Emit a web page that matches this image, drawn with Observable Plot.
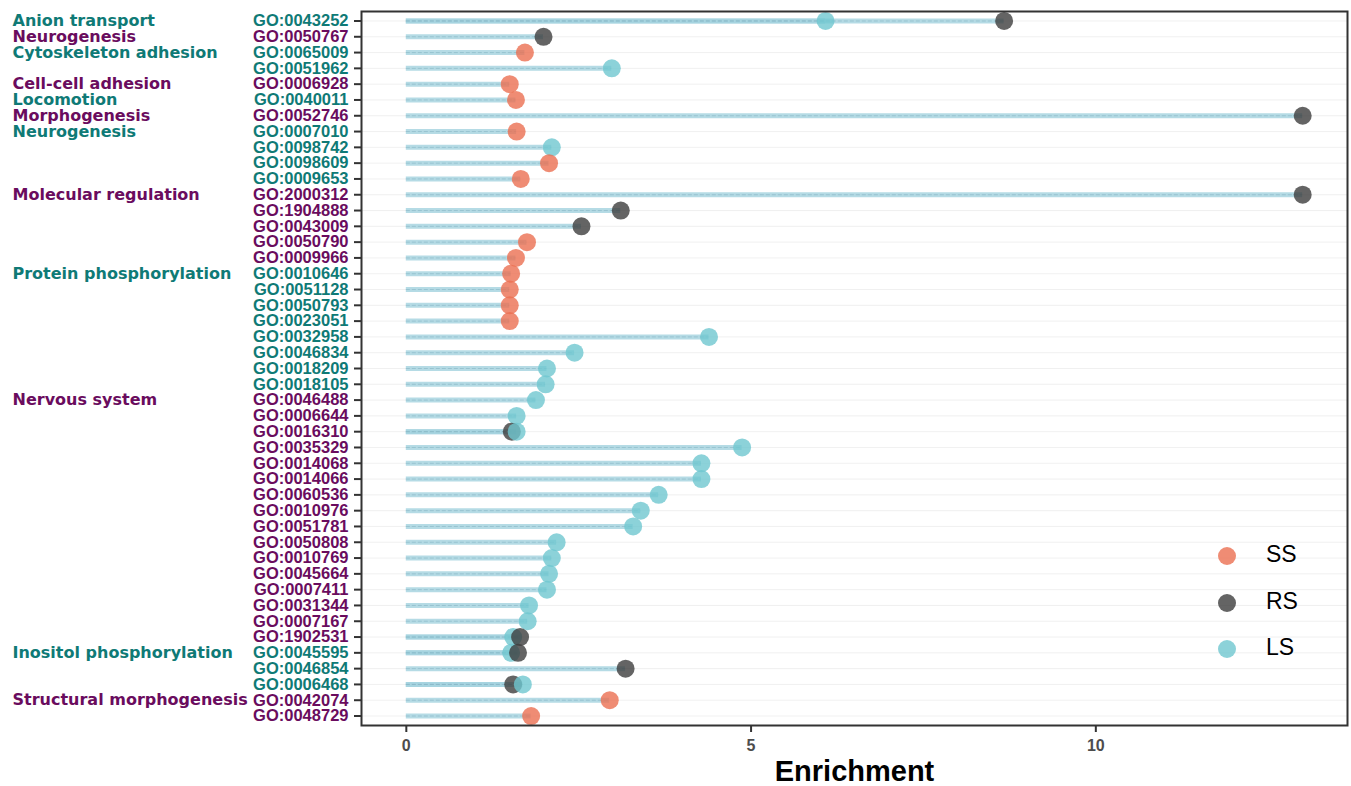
<!DOCTYPE html>
<html>
<head>
<meta charset="utf-8">
<script src="https://cdn.jsdelivr.net/npm/d3@7"></script>
<script src="https://cdn.jsdelivr.net/npm/@observablehq/plot@0.6"></script>
<style>
  html, body { margin: 0; padding: 0; background: #fff; }
  #wrap { position: relative; width: 1351px; height: 786px; }
  #legend { position: absolute; left: 1210px; top: 535px; font-family: "Liberation Sans", Arial, sans-serif; font-size: 23px; color: #000; }
  .li { position: relative; height: 46.5px; }
  .dot { position: absolute; left: 8px; top: 12px; width: 18px; height: 18px; border-radius: 50%; }
  .lab { position: absolute; left: 56px; top: 6px; line-height: 26px; }
</style>
</head>
<body>
<div id="wrap"><div id="chart"></div><div id="legend"></div></div>
<script>
// ---- data ----
const goIds = [
  "GO:0043252","GO:0050767","GO:0065009","GO:0051962","GO:0006928","GO:0040011","GO:0052746","GO:0007010",
  "GO:0098742","GO:0098609","GO:0009653","GO:2000312","GO:1904888","GO:0043009","GO:0050790","GO:0009966",
  "GO:0010646","GO:0051128","GO:0050793","GO:0023051","GO:0032958","GO:0046834","GO:0018209","GO:0018105",
  "GO:0046488","GO:0006644","GO:0016310","GO:0035329","GO:0014068","GO:0014066","GO:0060536","GO:0010976",
  "GO:0051781","GO:0050808","GO:0010769","GO:0045664","GO:0007411","GO:0031344","GO:0007167","GO:1902531",
  "GO:0045595","GO:0046854","GO:0006468","GO:0042074","GO:0048729"
];
// label group: t = teal, p = purple
const goGroup = [
  "t","p","t","t","p","t","p","t",
  "t","t","t","p","p","p","p","p",
  "t","t","t","t","t","t","t","t",
  "p","p","p","p","p","p","p","p",
  "p","p","p","p","p","p","p","p",
  "t","t","t","p","p"
];
const catGo = ["GO:0043252","GO:0050767","GO:0065009","GO:0006928","GO:0040011","GO:0052746","GO:0007010",
  "GO:2000312","GO:0010646","GO:0046488","GO:0045595","GO:0042074"];
const catLabel = ["Anion transport","Neurogenesis","Cytoskeleton adhesion","Cell-cell adhesion","Locomotion",
  "Morphogenesis","Neurogenesis","Molecular regulation","Protein phosphorylation","Nervous system",
  "Inositol phosphorylation","Structural morphogenesis"];

const ptGo = [
  "GO:0043252","GO:0043252","GO:0050767","GO:0065009","GO:0051962","GO:0006928","GO:0040011","GO:0052746",
  "GO:0007010","GO:0098742","GO:0098609","GO:0009653","GO:2000312","GO:1904888","GO:0043009","GO:0050790",
  "GO:0009966","GO:0010646","GO:0051128","GO:0050793","GO:0023051","GO:0032958","GO:0046834","GO:0018209",
  "GO:0018105","GO:0046488","GO:0006644","GO:0016310","GO:0016310","GO:0035329","GO:0014068","GO:0014066",
  "GO:0060536","GO:0010976","GO:0051781","GO:0050808","GO:0010769","GO:0045664","GO:0007411","GO:0031344",
  "GO:0007167","GO:1902531","GO:1902531","GO:0045595","GO:0045595","GO:0046854","GO:0006468","GO:0006468",
  "GO:0042074","GO:0048729"
];
const ptSeries = [
  "LS","RS","RS","SS","LS","SS","SS","RS",
  "SS","LS","SS","SS","RS","RS","RS","SS",
  "SS","SS","SS","SS","SS","LS","LS","LS",
  "LS","LS","LS","RS","LS","LS","LS","LS",
  "LS","LS","LS","LS","LS","LS","LS","LS",
  "LS","LS","RS","LS","RS","RS","RS","LS",
  "SS","SS"
];
const ptValue = [
  6.08,8.67,1.99,1.72,2.98,1.50,1.59,13.0,
  1.60,2.11,2.07,1.66,13.0,3.11,2.54,1.75,
  1.59,1.52,1.50,1.50,1.50,4.39,2.44,2.04,
  2.02,1.88,1.60,1.53,1.60,4.87,4.28,4.28,
  3.66,3.40,3.29,2.18,2.11,2.07,2.04,1.78,
  1.76,1.55,1.65,1.52,1.62,3.18,1.55,1.69,
  2.95,1.81
];
const seriesNames = ["SS","RS","LS"];
const seriesColors = ["#EB6F51","#3D3D3D","#6FC7CF"];
const xTicks = [0, 5, 10];

// ---- build tables ----
const rows = goIds.map((go, i) => ({go, group: goGroup[i]}));
const cats = catGo.map((go, i) => ({go, label: catLabel[i], group: goGroup[goIds.indexOf(go)]}));
const pts = ptGo.map((go, i) => ({go, series: ptSeries[i], value: ptValue[i]}));
const TEAL = "#0F7A76", PURPLE = "#6A0C5E";

const chart = Plot.plot({
  width: 1351,
  height: 786,
  marginLeft: 361,
  marginRight: 4,
  marginTop: 11,
  marginBottom: 61,
  style: {fontFamily: "'Liberation Sans', Arial, sans-serif", background: "#fff"},
  x: {domain: [-0.65, 13.65], label: null},
  y: {type: "point", domain: goIds, padding: 0.6, label: null},
  color: {domain: seriesNames, range: seriesColors},
  marks: [
    Plot.gridY({stroke: "#e6e6e6", strokeOpacity: 1, strokeWidth: 0.6}),
    Plot.ruleY(pts, {y: "go", x1: 0, x2: "value", stroke: "#a3d2de", strokeOpacity: 0.8, strokeWidth: 5}),
    Plot.ruleY(pts, {y: "go", x1: 0, x2: "value", stroke: "#86b6c4", strokeOpacity: 0.6, strokeWidth: 1, strokeDasharray: "4,2"}),
    Plot.dot(pts, {x: "value", y: "go", r: 9, fill: "series", fillOpacity: 0.8, stroke: "none"}),
    Plot.frame({stroke: "#333", strokeWidth: 2}),
    Plot.axisY({tickSize: 7, stroke: "#333", strokeWidth: 2, tickFormat: () => "", label: null}),
    Plot.text(rows.filter(d => d.group === "t"), {y: "go", text: "go", frameAnchor: "left", textAnchor: "end", dx: -13,
      fill: TEAL, fontWeight: "bold", fontSize: 16.5}),
    Plot.text(rows.filter(d => d.group === "p"), {y: "go", text: "go", frameAnchor: "left", textAnchor: "end", dx: -13,
      fill: PURPLE, fontWeight: "bold", fontSize: 16.5}),
    Plot.text(cats.filter(d => d.group === "t"), {y: "go", text: "label", frameAnchor: "left", textAnchor: "start", dx: -349,
      fill: TEAL, fontWeight: "bold", fontSize: 16, fontFamily: "'DejaVu Sans', Verdana, sans-serif"}),
    Plot.text(cats.filter(d => d.group === "p"), {y: "go", text: "label", frameAnchor: "left", textAnchor: "start", dx: -349,
      fill: PURPLE, fontWeight: "bold", fontSize: 16, fontFamily: "'DejaVu Sans', Verdana, sans-serif"}),
    Plot.axisX({ticks: xTicks, tickSize: 7, stroke: "#333", strokeWidth: 2, tickFormat: () => "", label: null}),
    Plot.text(xTicks, {x: d => d, frameAnchor: "bottom", lineAnchor: "middle", dy: 20, text: d => String(d),
      fill: "#4d4d4d", fontWeight: "bold", fontSize: 16}),
    Plot.text(["Enrichment"], {frameAnchor: "bottom", lineAnchor: "middle", dy: 46, text: d => d, fontSize: 29, fontWeight: "bold", fill: "#000"})
  ]
});
document.getElementById("chart").appendChild(chart);

const legend = document.getElementById("legend");
seriesNames.forEach((s, i) => {
  const item = document.createElement("div");
  item.className = "li";
  item.innerHTML = `<span class="dot" style="background:${seriesColors[i]};opacity:0.8"></span><span class="lab">${s}</span>`;
  legend.appendChild(item);
});
</script>
</body>
</html>
